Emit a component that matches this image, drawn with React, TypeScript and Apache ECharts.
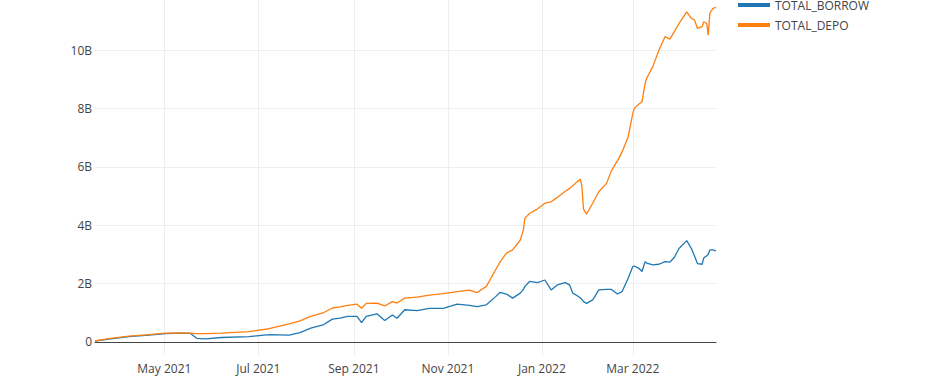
import React, { useEffect, useRef } from "react";
import * as echarts from "echarts";

const dates = [
  "2021-03-17", "2021-03-27", "2021-04-08", "2021-04-19", "2021-05-02", "2021-05-12", "2021-05-18",
  "2021-05-22", "2021-05-28", "2021-06-07", "2021-06-25", "2021-07-08", "2021-07-21", "2021-07-28",
  "2021-08-04", "2021-08-12", "2021-08-18", "2021-08-23", "2021-08-28", "2021-09-03", "2021-09-06",
  "2021-09-09", "2021-09-16", "2021-09-21", "2021-09-26", "2021-09-29", "2021-10-04", "2021-10-12",
  "2021-10-20", "2021-10-29", "2021-11-07", "2021-11-15", "2021-11-20", "2021-11-26", "2021-12-02",
  "2021-12-05", "2021-12-09", "2021-12-13", "2021-12-18", "2021-12-20", "2021-12-21", "2021-12-24",
  "2021-12-29", "2022-01-03", "2022-01-07", "2022-01-11", "2022-01-16", "2022-01-19", "2022-01-21",
  "2022-01-24", "2022-01-26", "2022-01-27", "2022-01-28", "2022-01-30", "2022-02-03", "2022-02-07",
  "2022-02-12", "2022-02-15", "2022-02-19", "2022-02-22", "2022-02-26", "2022-03-01", "2022-03-02",
  "2022-03-05", "2022-03-07", "2022-03-09", "2022-03-10", "2022-03-14", "2022-03-18", "2022-03-22",
  "2022-03-25", "2022-03-28", "2022-03-31", "2022-04-05", "2022-04-08", "2022-04-10", "2022-04-12",
  "2022-04-15", "2022-04-16", "2022-04-18", "2022-04-19", "2022-04-20", "2022-04-22", "2022-04-24",
];

// values in billions
const totalBorrow = [
  0.03, 0.1, 0.18, 0.22, 0.28, 0.3, 0.29,
  0.12, 0.1, 0.15, 0.18, 0.25, 0.23, 0.32,
  0.47, 0.58, 0.78, 0.81, 0.87, 0.87, 0.66,
  0.87, 0.96, 0.73, 0.92, 0.81, 1.1, 1.07,
  1.15, 1.15, 1.29, 1.25, 1.21, 1.27, 1.55,
  1.7, 1.64, 1.5, 1.67, 1.8, 1.9, 2.07,
  2.03, 2.12, 1.78, 1.95, 2.03, 1.95, 1.67,
  1.58, 1.5, 1.45, 1.38, 1.32, 1.44, 1.78,
  1.8, 1.8, 1.64, 1.72, 2.18, 2.58, 2.6,
  2.52, 2.41, 2.75, 2.7, 2.64, 2.66, 2.75,
  2.73, 2.9, 3.2, 3.47, 3.2, 2.95, 2.68,
  2.66, 2.87, 2.95, 3.0, 3.15, 3.15, 3.12,
];

const totalDepo = [
  0.03, 0.12, 0.2, 0.24, 0.3, 0.31, 0.3,
  0.28, 0.28, 0.3, 0.35, 0.45, 0.62, 0.72,
  0.87, 0.99, 1.16, 1.2, 1.25, 1.29, 1.15,
  1.32, 1.33, 1.23, 1.38, 1.33, 1.5, 1.53,
  1.6, 1.65, 1.72, 1.77, 1.69, 1.9, 2.47,
  2.75, 3.04, 3.15, 3.49, 3.84, 4.24, 4.4,
  4.55, 4.75, 4.8, 4.95, 5.15, 5.26, 5.35,
  5.49, 5.57, 5.32, 4.55, 4.38, 4.75, 5.15,
  5.43, 5.85, 6.2, 6.5, 7.03, 7.83, 8.0,
  8.15, 8.23, 8.86, 9.03, 9.43, 10.0, 10.46,
  10.37, 10.63, 10.91, 11.31, 11.08, 11.03, 10.74,
  10.8, 10.97, 10.91, 10.51, 11.26, 11.43, 11.46,
];

const yTicks = [0, 2, 4, 6, 8, 10, 12];
const xTicks = ["2021-05-01", "2021-07-01", "2021-09-01", "2021-11-01", "2022-01-01", "2022-03-01"];
const monthNames = ["Jan", "Feb", "Mar", "Apr", "May", "Jun", "Jul", "Aug", "Sep", "Oct", "Nov", "Dec"];

const FONT = '"Open Sans", verdana, arial, sans-serif';
const SHIFT = 20; // the reference is cropped at its top edge

export default function App() {
  const ref = useRef<HTMLDivElement>(null);
  useEffect(() => {
    if (!ref.current) return;
    const chart = echarts.init(ref.current, undefined, { renderer: "svg" });
    const toTs = (s: string) => new Date(s + "T00:00:00Z").getTime();
    const mk = (vals: number[]) => dates.map((d, i) => [toTs(d), vals[i] * 1e9]);
    const xTickTs = xTicks.map(toTs);
    const yTickVals = yTicks.map((v) => v * 1e9);
    chart.setOption({
      animation: false,
      backgroundColor: "#fff",
      grid: { left: 95, right: 220, top: SHIFT - 14.2, bottom: 35, containLabel: false },
      legend: {
        orient: "vertical",
        left: 733,
        top: SHIFT - 6,
        itemWidth: 32,
        itemHeight: 4,
        itemGap: 8,
        icon: "rect",
        textStyle: { color: "#444", fontSize: 12, fontFamily: FONT },
        data: ["TOTAL_BORROW", "TOTAL_DEPO"],
      },
      xAxis: {
        type: "value",
        min: toTs("2021-03-17"),
        max: toTs("2022-04-24"),
        axisLine: { onZero: true, lineStyle: { color: "#444", width: 1 } },
        axisTick: { show: false, customValues: xTickTs },
        axisLabel: {
          customValues: xTickTs,
          color: "#444",
          fontSize: 12,
          fontFamily: FONT,
          margin: 7,
          formatter: (v: number) => {
            const d = new Date(v);
            return monthNames[d.getUTCMonth()] + " " + d.getUTCFullYear();
          },
        },
        splitLine: { show: true, lineStyle: { color: "#eee", width: 1 } },
      },
      yAxis: {
        type: "value",
        min: -0.45e9,
        max: 12.2e9,
        axisLine: { show: false },
        axisTick: { show: false, customValues: yTickVals },
        axisLabel: {
          customValues: yTickVals,
          color: "#444",
          fontSize: 12,
          fontFamily: FONT,
          margin: 3,
          formatter: (v: number) => (v === 0 ? "0" : Math.round(v / 1e9) + "B"),
        },
        splitLine: { show: true, lineStyle: { color: "#eee", width: 1 } },
      },
      series: [
        {
          name: "TOTAL_BORROW",
          type: "line",
          data: mk(totalBorrow),
          showSymbol: false,
          symbol: "none",
          lineStyle: { color: "#1f77b4", width: 1.3 },
          itemStyle: { color: "#1f77b4" },
        },
        {
          name: "TOTAL_DEPO",
          type: "line",
          data: mk(totalDepo),
          showSymbol: false,
          symbol: "none",
          lineStyle: { color: "#ff7f0e", width: 1.3 },
          itemStyle: { color: "#ff7f0e" },
        },
      ],
    });
    return () => chart.dispose();
  }, []);
  return (
    <div
      ref={ref}
      style={{
        position: "fixed",
        left: 0,
        top: -SHIFT,
        width: 936,
        height: 390 + SHIFT,
        background: "#fff",
      }}
    />
  );
}
